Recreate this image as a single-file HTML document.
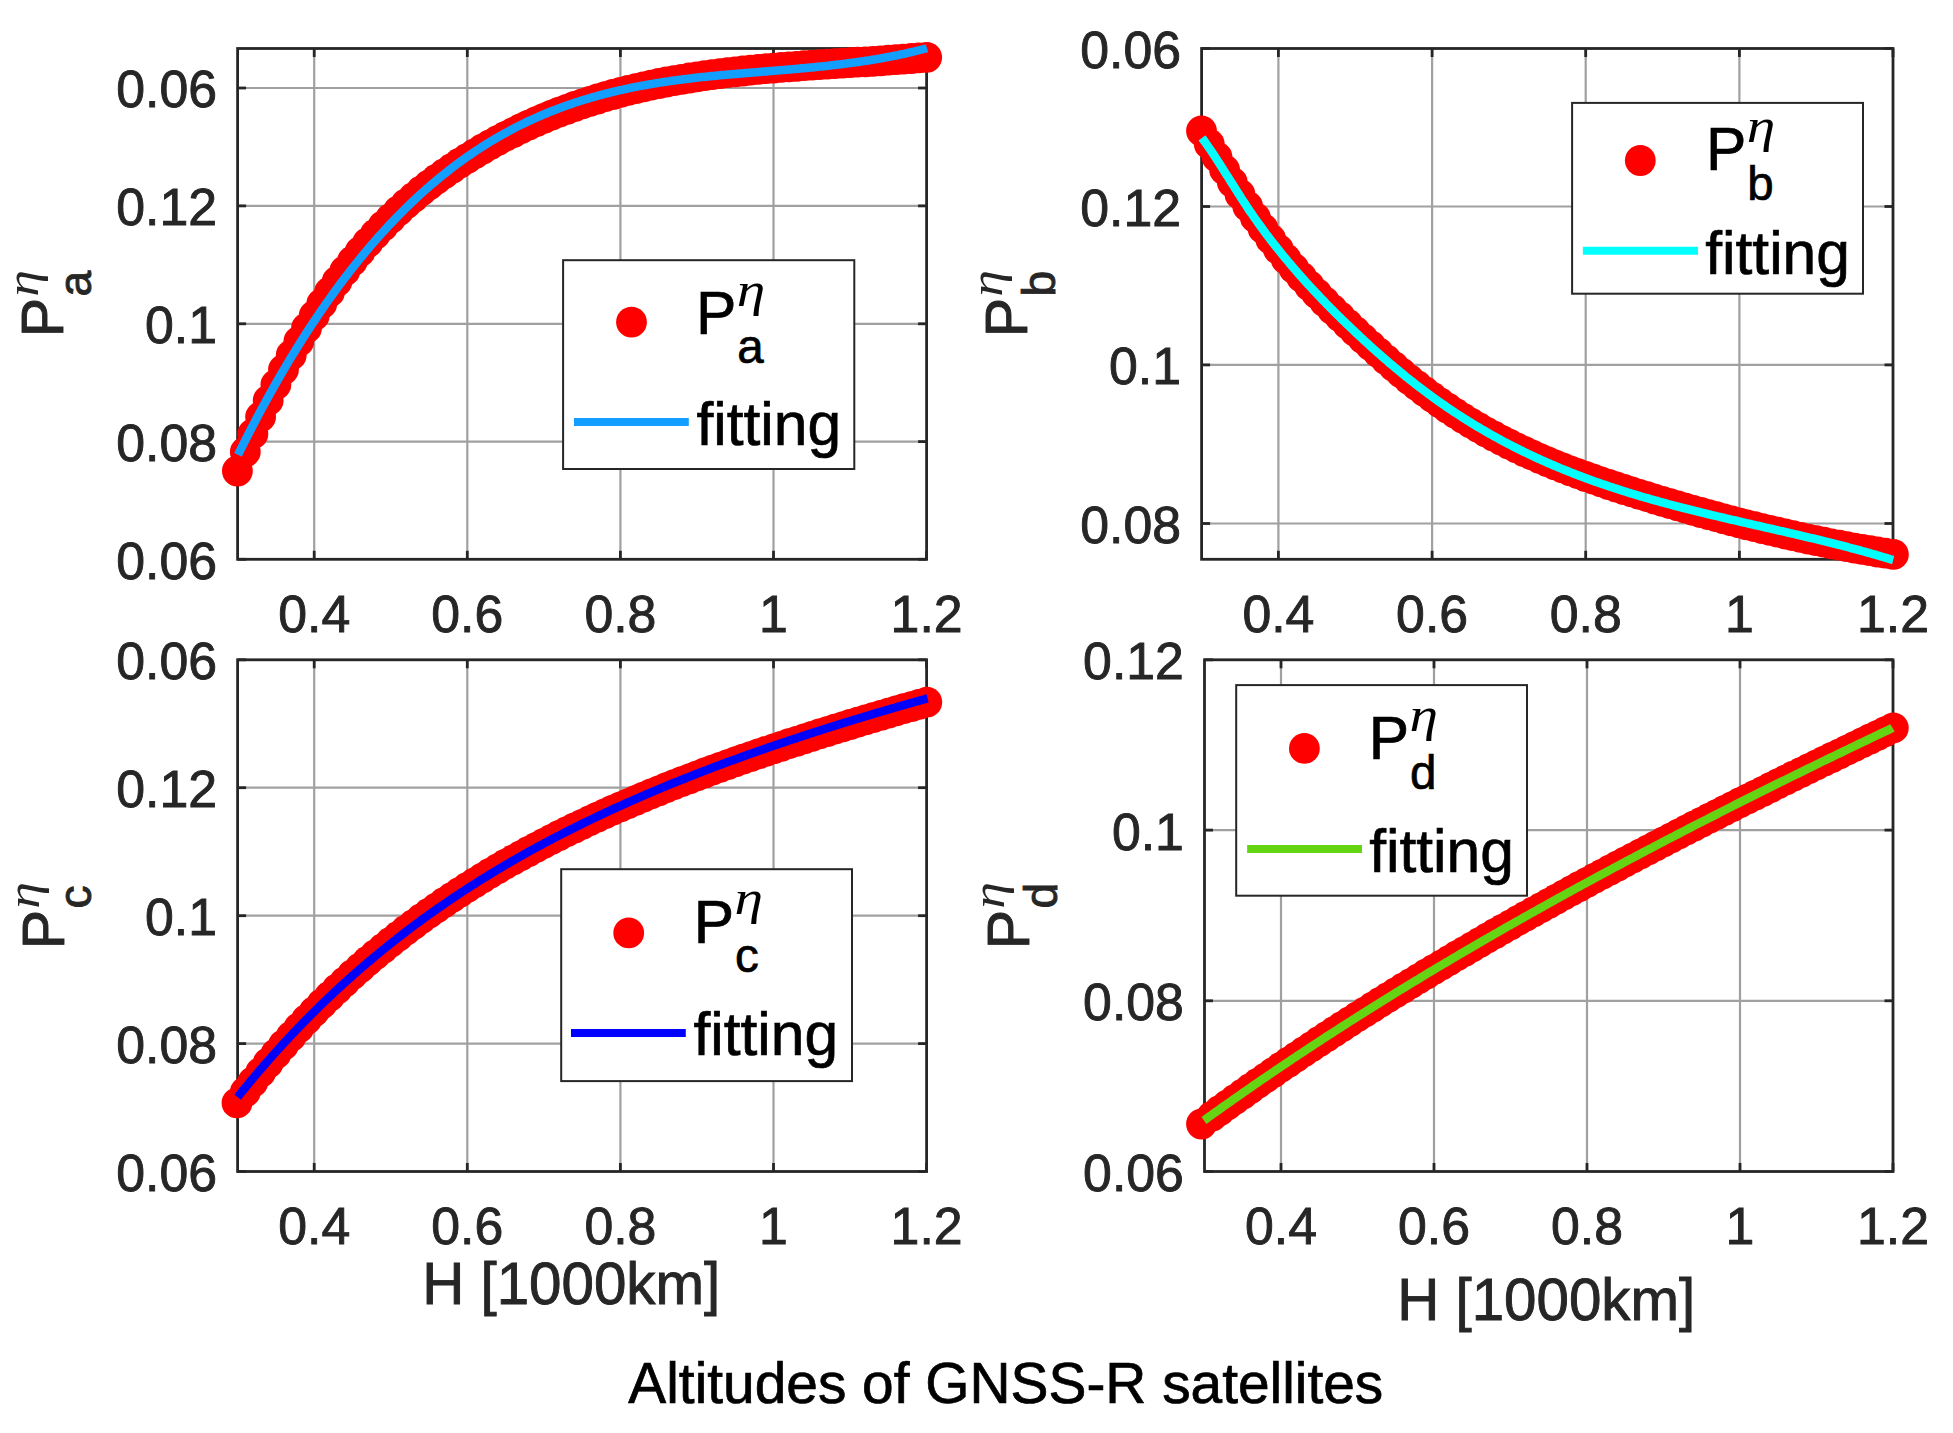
<!DOCTYPE html>
<html><head><meta charset="utf-8"><title>Altitudes of GNSS-R satellites</title><style>html,body{margin:0;padding:0;background:#fff;overflow:hidden}svg{display:block}</style></head><body>
<svg width="1953" height="1433" viewBox="0 0 1953 1433">
<rect x="0" y="0" width="1953" height="1433" fill="#ffffff"/>
<g stroke="#a0a0a0" stroke-width="2.2"><line x1="314.2" y1="48.5" x2="314.2" y2="559.3"/><line x1="467.3" y1="48.5" x2="467.3" y2="559.3"/><line x1="620.4" y1="48.5" x2="620.4" y2="559.3"/><line x1="773.5" y1="48.5" x2="773.5" y2="559.3"/><line x1="237.6" y1="88.0" x2="926.6" y2="88.0"/><line x1="237.6" y1="205.9" x2="926.6" y2="205.9"/><line x1="237.6" y1="323.8" x2="926.6" y2="323.8"/><line x1="237.6" y1="441.6" x2="926.6" y2="441.6"/></g>
<g stroke="#262626" stroke-width="2.8"><line x1="314.2" y1="559.3" x2="314.2" y2="550.8"/><line x1="314.2" y1="48.5" x2="314.2" y2="57.0"/><line x1="467.3" y1="559.3" x2="467.3" y2="550.8"/><line x1="467.3" y1="48.5" x2="467.3" y2="57.0"/><line x1="620.4" y1="559.3" x2="620.4" y2="550.8"/><line x1="620.4" y1="48.5" x2="620.4" y2="57.0"/><line x1="773.5" y1="559.3" x2="773.5" y2="550.8"/><line x1="773.5" y1="48.5" x2="773.5" y2="57.0"/><line x1="926.6" y1="559.3" x2="926.6" y2="550.8"/><line x1="926.6" y1="48.5" x2="926.6" y2="57.0"/><line x1="237.6" y1="88.0" x2="246.1" y2="88.0"/><line x1="926.6" y1="88.0" x2="918.1" y2="88.0"/><line x1="237.6" y1="205.9" x2="246.1" y2="205.9"/><line x1="926.6" y1="205.9" x2="918.1" y2="205.9"/><line x1="237.6" y1="323.8" x2="246.1" y2="323.8"/><line x1="926.6" y1="323.8" x2="918.1" y2="323.8"/><line x1="237.6" y1="441.6" x2="246.1" y2="441.6"/><line x1="926.6" y1="441.6" x2="918.1" y2="441.6"/><line x1="237.6" y1="559.3" x2="246.1" y2="559.3"/><line x1="926.6" y1="559.3" x2="918.1" y2="559.3"/></g>
<rect x="237.6" y="48.5" width="689.0" height="510.8" fill="none" stroke="#262626" stroke-width="2.8" stroke-linejoin="miter" stroke-linecap="square"/>
<g font-family='"Liberation Sans", Arial, Helvetica, sans-serif' font-size="51.8" fill="#262626" stroke="#262626" stroke-width="0.9"><text x="217.0" y="107.4" text-anchor="end">0.06</text><text x="217.0" y="225.3" text-anchor="end">0.12</text><text x="217.0" y="343.2" text-anchor="end">0.1</text><text x="217.0" y="461.0" text-anchor="end">0.08</text><text x="217.0" y="578.7" text-anchor="end">0.06</text><text x="314.2" y="631.6" text-anchor="middle">0.4</text><text x="467.3" y="631.6" text-anchor="middle">0.6</text><text x="620.4" y="631.6" text-anchor="middle">0.8</text><text x="773.5" y="631.6" text-anchor="middle">1</text><text x="926.6" y="631.6" text-anchor="middle">1.2</text></g>
<g fill="#FF0000"><circle cx="237.4" cy="471.0" r="15.4"/><circle cx="245.3" cy="451.8" r="15.4"/><circle cx="252.9" cy="433.9" r="15.4"/><circle cx="260.6" cy="416.8" r="15.4"/><circle cx="268.2" cy="400.4" r="15.4"/><circle cx="275.9" cy="384.6" r="15.4"/><circle cx="283.5" cy="369.6" r="15.4"/><circle cx="291.2" cy="355.2" r="15.4"/><circle cx="298.8" cy="341.4" r="15.4"/><circle cx="306.5" cy="328.2" r="15.4"/><circle cx="314.2" cy="315.7" r="15.4"/><circle cx="321.8" cy="303.7" r="15.4"/><circle cx="329.5" cy="292.2" r="15.4"/><circle cx="337.1" cy="281.3" r="15.4"/><circle cx="344.8" cy="270.9" r="15.4"/><circle cx="352.4" cy="261.1" r="15.4"/><circle cx="360.1" cy="251.6" r="15.4"/><circle cx="367.7" cy="242.7" r="15.4"/><circle cx="375.4" cy="234.1" r="15.4"/><circle cx="383.1" cy="226.0" r="15.4"/><circle cx="390.7" cy="218.3" r="15.4"/><circle cx="398.4" cy="210.9" r="15.4"/><circle cx="406.0" cy="203.9" r="15.4"/><circle cx="413.7" cy="197.3" r="15.4"/><circle cx="421.3" cy="190.9" r="15.4"/><circle cx="429.0" cy="184.9" r="15.4"/><circle cx="436.6" cy="179.1" r="15.4"/><circle cx="444.3" cy="173.6" r="15.4"/><circle cx="452.0" cy="168.3" r="15.4"/><circle cx="459.6" cy="163.2" r="15.4"/><circle cx="467.3" cy="158.3" r="15.4"/><circle cx="474.9" cy="153.6" r="15.4"/><circle cx="482.6" cy="149.0" r="15.4"/><circle cx="490.2" cy="144.7" r="15.4"/><circle cx="497.9" cy="140.4" r="15.4"/><circle cx="505.5" cy="136.4" r="15.4"/><circle cx="513.2" cy="132.5" r="15.4"/><circle cx="520.9" cy="128.7" r="15.4"/><circle cx="528.5" cy="125.2" r="15.4"/><circle cx="536.2" cy="121.7" r="15.4"/><circle cx="543.8" cy="118.4" r="15.4"/><circle cx="551.5" cy="115.2" r="15.4"/><circle cx="559.1" cy="112.2" r="15.4"/><circle cx="566.8" cy="109.3" r="15.4"/><circle cx="574.4" cy="106.5" r="15.4"/><circle cx="582.1" cy="103.9" r="15.4"/><circle cx="589.8" cy="101.4" r="15.4"/><circle cx="597.4" cy="99.0" r="15.4"/><circle cx="605.1" cy="96.7" r="15.4"/><circle cx="612.7" cy="94.5" r="15.4"/><circle cx="620.4" cy="92.4" r="15.4"/><circle cx="628.0" cy="90.4" r="15.4"/><circle cx="635.7" cy="88.6" r="15.4"/><circle cx="643.3" cy="86.8" r="15.4"/><circle cx="651.0" cy="85.1" r="15.4"/><circle cx="658.7" cy="83.5" r="15.4"/><circle cx="666.3" cy="82.0" r="15.4"/><circle cx="674.0" cy="80.6" r="15.4"/><circle cx="681.6" cy="79.3" r="15.4"/><circle cx="689.3" cy="78.0" r="15.4"/><circle cx="696.9" cy="76.8" r="15.4"/><circle cx="704.6" cy="75.7" r="15.4"/><circle cx="712.2" cy="74.6" r="15.4"/><circle cx="719.9" cy="73.6" r="15.4"/><circle cx="727.6" cy="72.7" r="15.4"/><circle cx="735.2" cy="71.8" r="15.4"/><circle cx="742.9" cy="71.0" r="15.4"/><circle cx="750.5" cy="70.2" r="15.4"/><circle cx="758.2" cy="69.4" r="15.4"/><circle cx="765.8" cy="68.7" r="15.4"/><circle cx="773.5" cy="68.1" r="15.4"/><circle cx="781.1" cy="67.4" r="15.4"/><circle cx="788.8" cy="66.9" r="15.4"/><circle cx="796.5" cy="66.3" r="15.4"/><circle cx="804.1" cy="65.7" r="15.4"/><circle cx="811.8" cy="65.2" r="15.4"/><circle cx="819.4" cy="64.7" r="15.4"/><circle cx="827.1" cy="64.2" r="15.4"/><circle cx="834.7" cy="63.7" r="15.4"/><circle cx="842.4" cy="63.2" r="15.4"/><circle cx="850.0" cy="62.7" r="15.4"/><circle cx="857.7" cy="62.2" r="15.4"/><circle cx="865.4" cy="61.8" r="15.4"/><circle cx="873.0" cy="61.3" r="15.4"/><circle cx="880.7" cy="60.8" r="15.4"/><circle cx="888.3" cy="60.2" r="15.4"/><circle cx="896.0" cy="59.7" r="15.4"/><circle cx="903.6" cy="59.1" r="15.4"/><circle cx="911.3" cy="58.5" r="15.4"/><circle cx="918.9" cy="57.9" r="15.4"/><circle cx="926.7" cy="57.3" r="15.4"/></g>
<path d="M238.0,454.8 L240.0,450.8 L242.0,446.8 L244.0,442.8 L246.0,438.9 L248.0,435.0 L250.0,431.1 L252.0,427.2 L254.0,423.4 L256.0,419.6 L258.0,415.8 L260.0,412.1 L262.0,408.3 L264.0,404.7 L266.0,401.0 L268.0,397.4 L270.0,393.8 L272.0,390.2 L274.0,386.6 L276.0,383.1 L278.0,379.6 L280.0,376.2 L282.0,372.7 L284.0,369.3 L286.0,365.9 L288.0,362.6 L290.0,359.2 L292.0,355.9 L294.0,352.7 L296.0,349.4 L298.0,346.2 L300.0,343.0 L302.0,339.8 L304.0,336.7 L306.0,333.5 L308.0,330.4 L310.0,327.4 L312.0,324.3 L314.0,321.3 L316.0,318.3 L318.0,315.3 L320.0,312.4 L322.0,309.5 L324.0,306.6 L326.0,303.7 L328.0,300.9 L330.0,298.1 L332.0,295.3 L334.0,292.5 L336.0,289.7 L338.0,287.0 L340.0,284.3 L342.0,281.7 L344.0,279.0 L346.0,276.4 L348.0,273.8 L350.0,271.2 L352.0,268.6 L354.0,266.1 L356.0,263.6 L358.0,261.1 L360.0,258.6 L362.0,256.2 L364.0,253.8 L366.0,251.4 L368.0,249.0 L370.0,246.6 L372.0,244.3 L374.0,242.0 L376.0,239.7 L378.0,237.4 L380.0,235.2 L382.0,233.0 L384.0,230.8 L386.0,228.6 L388.0,226.4 L390.0,224.3 L392.0,222.2 L394.0,220.1 L396.0,218.0 L398.0,216.0 L400.0,213.9 L402.0,211.9 L404.0,209.9 L406.0,208.0 L408.0,206.0 L410.0,204.1 L412.0,202.2 L414.0,200.3 L416.0,198.4 L418.0,196.5 L420.0,194.7 L422.0,192.9 L424.0,191.1 L426.0,189.3 L428.0,187.6 L430.0,185.8 L432.0,184.1 L434.0,182.4 L436.0,180.7 L438.0,179.1 L440.0,177.4 L442.0,175.8 L444.0,174.2 L446.0,172.6 L448.0,171.0 L450.0,169.5 L452.0,167.9 L454.0,166.4 L456.0,164.9 L458.0,163.4 L460.0,161.9 L462.0,160.5 L464.0,159.1 L466.0,157.6 L468.0,156.2 L470.0,154.9 L472.0,153.5 L474.0,152.1 L476.0,150.8 L478.0,149.5 L480.0,148.2 L482.0,146.9 L484.0,145.6 L486.0,144.4 L488.0,143.1 L490.0,141.9 L492.0,140.7 L494.0,139.5 L496.0,138.3 L498.0,137.2 L500.0,136.0 L502.0,134.9 L504.0,133.8 L506.0,132.7 L508.0,131.6 L510.0,130.5 L512.0,129.4 L514.0,128.4 L516.0,127.3 L518.0,126.3 L520.0,125.3 L522.0,124.3 L524.0,123.4 L526.0,122.4 L528.0,121.4 L530.0,120.5 L532.0,119.6 L534.0,118.7 L536.0,117.8 L538.0,116.9 L540.0,116.0 L542.0,115.1 L544.0,114.3 L546.0,113.5 L548.0,112.6 L550.0,111.8 L552.0,111.0 L554.0,110.2 L556.0,109.5 L558.0,108.7 L560.0,107.9 L562.0,107.2 L564.0,106.5 L566.0,105.8 L568.0,105.1 L570.0,104.4 L572.0,103.7 L574.0,103.0 L576.0,102.3 L578.0,101.7 L580.0,101.0 L582.0,100.4 L584.0,99.8 L586.0,99.2 L588.0,98.6 L590.0,98.0 L592.0,97.4 L594.0,96.8 L596.0,96.3 L598.0,95.7 L600.0,95.2 L602.0,94.6 L604.0,94.1 L606.0,93.6 L608.0,93.1 L610.0,92.6 L612.0,92.1 L614.0,91.6 L616.0,91.1 L618.0,90.7 L620.0,90.2 L622.0,89.8 L624.0,89.3 L626.0,88.9 L628.0,88.5 L630.0,88.0 L632.0,87.6 L634.0,87.2 L636.0,86.8 L638.0,86.4 L640.0,86.1 L642.0,85.7 L644.0,85.3 L646.0,85.0 L648.0,84.6 L650.0,84.3 L652.0,83.9 L654.0,83.6 L656.0,83.2 L658.0,82.9 L660.0,82.6 L662.0,82.3 L664.0,82.0 L666.0,81.7 L668.0,81.4 L670.0,81.1 L672.0,80.8 L674.0,80.5 L676.0,80.3 L678.0,80.0 L680.0,79.7 L682.0,79.5 L684.0,79.2 L686.0,79.0 L688.0,78.7 L690.0,78.5 L692.0,78.3 L694.0,78.0 L696.0,77.8 L698.0,77.6 L700.0,77.3 L702.0,77.1 L704.0,76.9 L706.0,76.7 L708.0,76.5 L710.0,76.3 L712.0,76.1 L714.0,75.9 L716.0,75.7 L718.0,75.5 L720.0,75.3 L722.0,75.1 L724.0,74.9 L726.0,74.8 L728.0,74.6 L730.0,74.4 L732.0,74.2 L734.0,74.0 L736.0,73.9 L738.0,73.7 L740.0,73.5 L742.0,73.4 L744.0,73.2 L746.0,73.0 L748.0,72.9 L750.0,72.7 L752.0,72.5 L754.0,72.4 L756.0,72.2 L758.0,72.0 L760.0,71.9 L762.0,71.7 L764.0,71.5 L766.0,71.4 L768.0,71.2 L770.0,71.1 L772.0,70.9 L774.0,70.7 L776.0,70.6 L778.0,70.4 L780.0,70.2 L782.0,70.1 L784.0,69.9 L786.0,69.7 L788.0,69.6 L790.0,69.4 L792.0,69.2 L794.0,69.1 L796.0,68.9 L798.0,68.7 L800.0,68.5 L802.0,68.3 L804.0,68.2 L806.0,68.0 L808.0,67.8 L810.0,67.6 L812.0,67.4 L814.0,67.2 L816.0,67.0 L818.0,66.8 L820.0,66.6 L822.0,66.4 L824.0,66.2 L826.0,66.0 L828.0,65.7 L830.0,65.5 L832.0,65.3 L834.0,65.1 L836.0,64.8 L838.0,64.6 L840.0,64.4 L842.0,64.1 L844.0,63.9 L846.0,63.6 L848.0,63.3 L850.0,63.1 L852.0,62.8 L854.0,62.5 L856.0,62.3 L858.0,62.0 L860.0,61.7 L862.0,61.4 L864.0,61.1 L866.0,60.8 L868.0,60.5 L870.0,60.2 L872.0,59.8 L874.0,59.5 L876.0,59.2 L878.0,58.8 L880.0,58.5 L882.0,58.1 L884.0,57.8 L886.0,57.4 L888.0,57.0 L890.0,56.6 L892.0,56.3 L894.0,55.9 L896.0,55.5 L898.0,55.1 L900.0,54.6 L902.0,54.2 L904.0,53.8 L906.0,53.3 L908.0,52.9 L910.0,52.4 L912.0,52.0 L914.0,51.5 L916.0,51.0 L918.0,50.5 L920.0,50.0 L922.0,49.5 L924.0,49.0 L926.0,48.5 L927.0,48.2" fill="none" stroke="#129FFF" stroke-width="8.5" stroke-linecap="butt" stroke-linejoin="round"/>
<rect x="563.1" y="260.2" width="291.2" height="208.8" fill="#ffffff" stroke="#262626" stroke-width="2"/>
<circle cx="631.5" cy="322.2" r="15.4" fill="#FF0000"/>
<line x1="574.0" y1="422.1" x2="688.8" y2="422.1" stroke="#129FFF" stroke-width="8"/>
<g fill="#000"><text x="696.1" y="333.8" font-family='"Liberation Sans", Arial, Helvetica, sans-serif' font-size="60.5" stroke="#000" stroke-width="0.7">P</text><text transform="translate(736.7,305.5) scale(1.176,1)" x="0" y="0" font-family="Liberation Serif, serif" font-style="italic" font-size="48.8">η</text><text x="737.2" y="363.0" font-family='"Liberation Sans", Arial, Helvetica, sans-serif' font-size="47.5" stroke="#000" stroke-width="0.7">a</text><text x="696.5" y="444.9" font-family='"Liberation Sans", Arial, Helvetica, sans-serif' font-size="60.5" stroke="#000" stroke-width="0.7">fitting</text></g>
<g transform="translate(63.9,332.8) rotate(-90)" fill="#262626" stroke="#262626" stroke-width="0.9"><text x="-4.4" y="-0.45" font-family='"Liberation Sans", Arial, Helvetica, sans-serif' font-size="59">P</text><text transform="translate(36.0,-25.6) scale(1.18,1)" x="0" y="0" font-family="Liberation Serif, serif" font-style="italic" font-size="45.6" stroke="none">η</text><text x="36.2" y="27.2" font-family='"Liberation Sans", Arial, Helvetica, sans-serif' font-size="46.3">a</text></g>
<g stroke="#a0a0a0" stroke-width="2.2"><line x1="1278.4" y1="48.5" x2="1278.4" y2="559.3"/><line x1="1432.1" y1="48.5" x2="1432.1" y2="559.3"/><line x1="1585.7" y1="48.5" x2="1585.7" y2="559.3"/><line x1="1739.4" y1="48.5" x2="1739.4" y2="559.3"/><line x1="1201.6" y1="206.5" x2="1893.0" y2="206.5"/><line x1="1201.6" y1="364.9" x2="1893.0" y2="364.9"/><line x1="1201.6" y1="523.5" x2="1893.0" y2="523.5"/></g>
<g stroke="#262626" stroke-width="2.8"><line x1="1278.4" y1="559.3" x2="1278.4" y2="550.8"/><line x1="1278.4" y1="48.5" x2="1278.4" y2="57.0"/><line x1="1432.1" y1="559.3" x2="1432.1" y2="550.8"/><line x1="1432.1" y1="48.5" x2="1432.1" y2="57.0"/><line x1="1585.7" y1="559.3" x2="1585.7" y2="550.8"/><line x1="1585.7" y1="48.5" x2="1585.7" y2="57.0"/><line x1="1739.4" y1="559.3" x2="1739.4" y2="550.8"/><line x1="1739.4" y1="48.5" x2="1739.4" y2="57.0"/><line x1="1893.0" y1="559.3" x2="1893.0" y2="550.8"/><line x1="1893.0" y1="48.5" x2="1893.0" y2="57.0"/><line x1="1201.6" y1="48.5" x2="1210.1" y2="48.5"/><line x1="1893.0" y1="48.5" x2="1884.5" y2="48.5"/><line x1="1201.6" y1="206.5" x2="1210.1" y2="206.5"/><line x1="1893.0" y1="206.5" x2="1884.5" y2="206.5"/><line x1="1201.6" y1="364.9" x2="1210.1" y2="364.9"/><line x1="1893.0" y1="364.9" x2="1884.5" y2="364.9"/><line x1="1201.6" y1="523.5" x2="1210.1" y2="523.5"/><line x1="1893.0" y1="523.5" x2="1884.5" y2="523.5"/></g>
<rect x="1201.6" y="48.5" width="691.4" height="510.8" fill="none" stroke="#262626" stroke-width="2.8" stroke-linejoin="miter" stroke-linecap="square"/>
<g font-family='"Liberation Sans", Arial, Helvetica, sans-serif' font-size="51.8" fill="#262626" stroke="#262626" stroke-width="0.9"><text x="1181.0" y="67.9" text-anchor="end">0.06</text><text x="1181.0" y="225.9" text-anchor="end">0.12</text><text x="1181.0" y="384.3" text-anchor="end">0.1</text><text x="1181.0" y="542.9" text-anchor="end">0.08</text><text x="1278.4" y="631.6" text-anchor="middle">0.4</text><text x="1432.1" y="631.6" text-anchor="middle">0.6</text><text x="1585.7" y="631.6" text-anchor="middle">0.8</text><text x="1739.4" y="631.6" text-anchor="middle">1</text><text x="1893.0" y="631.6" text-anchor="middle">1.2</text></g>
<g fill="#FF0000"><circle cx="1201.5" cy="131.0" r="15.4"/><circle cx="1209.3" cy="144.2" r="15.4"/><circle cx="1217.0" cy="157.1" r="15.4"/><circle cx="1224.6" cy="169.8" r="15.4"/><circle cx="1232.3" cy="182.3" r="15.4"/><circle cx="1240.0" cy="194.4" r="15.4"/><circle cx="1247.7" cy="206.3" r="15.4"/><circle cx="1255.4" cy="217.7" r="15.4"/><circle cx="1263.1" cy="228.7" r="15.4"/><circle cx="1270.7" cy="239.2" r="15.4"/><circle cx="1278.4" cy="249.4" r="15.4"/><circle cx="1286.1" cy="259.1" r="15.4"/><circle cx="1293.8" cy="268.3" r="15.4"/><circle cx="1301.5" cy="277.1" r="15.4"/><circle cx="1309.2" cy="285.6" r="15.4"/><circle cx="1316.8" cy="293.7" r="15.4"/><circle cx="1324.5" cy="301.6" r="15.4"/><circle cx="1332.2" cy="309.3" r="15.4"/><circle cx="1339.9" cy="316.7" r="15.4"/><circle cx="1347.6" cy="324.1" r="15.4"/><circle cx="1355.2" cy="331.4" r="15.4"/><circle cx="1362.9" cy="338.6" r="15.4"/><circle cx="1370.6" cy="345.7" r="15.4"/><circle cx="1378.3" cy="352.7" r="15.4"/><circle cx="1386.0" cy="359.6" r="15.4"/><circle cx="1393.7" cy="366.3" r="15.4"/><circle cx="1401.3" cy="372.9" r="15.4"/><circle cx="1409.0" cy="379.3" r="15.4"/><circle cx="1416.7" cy="385.4" r="15.4"/><circle cx="1424.4" cy="391.4" r="15.4"/><circle cx="1432.1" cy="397.1" r="15.4"/><circle cx="1439.7" cy="402.7" r="15.4"/><circle cx="1447.4" cy="408.0" r="15.4"/><circle cx="1455.1" cy="413.1" r="15.4"/><circle cx="1462.8" cy="418.1" r="15.4"/><circle cx="1470.5" cy="422.8" r="15.4"/><circle cx="1478.2" cy="427.4" r="15.4"/><circle cx="1485.8" cy="431.8" r="15.4"/><circle cx="1493.5" cy="436.0" r="15.4"/><circle cx="1501.2" cy="440.1" r="15.4"/><circle cx="1508.9" cy="444.0" r="15.4"/><circle cx="1516.6" cy="447.8" r="15.4"/><circle cx="1524.3" cy="451.5" r="15.4"/><circle cx="1531.9" cy="455.0" r="15.4"/><circle cx="1539.6" cy="458.4" r="15.4"/><circle cx="1547.3" cy="461.7" r="15.4"/><circle cx="1555.0" cy="464.8" r="15.4"/><circle cx="1562.7" cy="467.9" r="15.4"/><circle cx="1570.3" cy="470.9" r="15.4"/><circle cx="1578.0" cy="473.7" r="15.4"/><circle cx="1585.7" cy="476.5" r="15.4"/><circle cx="1593.4" cy="479.2" r="15.4"/><circle cx="1601.1" cy="481.9" r="15.4"/><circle cx="1608.8" cy="484.5" r="15.4"/><circle cx="1616.4" cy="487.0" r="15.4"/><circle cx="1624.1" cy="489.5" r="15.4"/><circle cx="1631.8" cy="491.9" r="15.4"/><circle cx="1639.5" cy="494.3" r="15.4"/><circle cx="1647.2" cy="496.7" r="15.4"/><circle cx="1654.9" cy="499.1" r="15.4"/><circle cx="1662.5" cy="501.4" r="15.4"/><circle cx="1670.2" cy="503.7" r="15.4"/><circle cx="1677.9" cy="505.9" r="15.4"/><circle cx="1685.6" cy="508.1" r="15.4"/><circle cx="1693.3" cy="510.3" r="15.4"/><circle cx="1700.9" cy="512.5" r="15.4"/><circle cx="1708.6" cy="514.6" r="15.4"/><circle cx="1716.3" cy="516.7" r="15.4"/><circle cx="1724.0" cy="518.8" r="15.4"/><circle cx="1731.7" cy="520.8" r="15.4"/><circle cx="1739.4" cy="522.8" r="15.4"/><circle cx="1747.0" cy="524.8" r="15.4"/><circle cx="1754.7" cy="526.7" r="15.4"/><circle cx="1762.4" cy="528.6" r="15.4"/><circle cx="1770.1" cy="530.4" r="15.4"/><circle cx="1777.8" cy="532.2" r="15.4"/><circle cx="1785.4" cy="534.0" r="15.4"/><circle cx="1793.1" cy="535.7" r="15.4"/><circle cx="1800.8" cy="537.4" r="15.4"/><circle cx="1808.5" cy="539.1" r="15.4"/><circle cx="1816.2" cy="540.7" r="15.4"/><circle cx="1823.9" cy="542.2" r="15.4"/><circle cx="1831.5" cy="543.8" r="15.4"/><circle cx="1839.2" cy="545.2" r="15.4"/><circle cx="1846.9" cy="546.7" r="15.4"/><circle cx="1854.6" cy="548.1" r="15.4"/><circle cx="1862.3" cy="549.4" r="15.4"/><circle cx="1870.0" cy="550.7" r="15.4"/><circle cx="1877.6" cy="552.0" r="15.4"/><circle cx="1885.3" cy="553.2" r="15.4"/><circle cx="1893.4" cy="554.4" r="15.4"/></g>
<path d="M1202.0,137.9 L1204.0,140.6 L1206.0,143.4 L1208.0,146.3 L1210.0,149.2 L1212.0,152.2 L1214.0,155.2 L1216.0,158.3 L1218.0,161.3 L1220.0,164.5 L1222.0,167.6 L1224.0,170.7 L1226.0,173.9 L1228.0,177.1 L1230.0,180.3 L1232.0,183.4 L1234.0,186.6 L1236.0,189.8 L1238.0,192.9 L1240.0,196.1 L1242.0,199.2 L1244.0,202.2 L1246.0,205.3 L1248.0,208.3 L1250.0,211.3 L1252.0,214.2 L1254.0,217.1 L1256.0,219.9 L1258.0,222.7 L1260.0,225.5 L1262.0,228.3 L1264.0,231.0 L1266.0,233.7 L1268.0,236.3 L1270.0,239.0 L1272.0,241.6 L1274.0,244.1 L1276.0,246.7 L1278.0,249.2 L1280.0,251.7 L1282.0,254.1 L1284.0,256.6 L1286.0,259.0 L1288.0,261.4 L1290.0,263.8 L1292.0,266.1 L1294.0,268.5 L1296.0,270.8 L1298.0,273.1 L1300.0,275.4 L1302.0,277.6 L1304.0,279.9 L1306.0,282.1 L1308.0,284.3 L1310.0,286.5 L1312.0,288.6 L1314.0,290.8 L1316.0,292.9 L1318.0,295.0 L1320.0,297.1 L1322.0,299.2 L1324.0,301.3 L1326.0,303.4 L1328.0,305.4 L1330.0,307.5 L1332.0,309.5 L1334.0,311.5 L1336.0,313.5 L1338.0,315.5 L1340.0,317.4 L1342.0,319.4 L1344.0,321.3 L1346.0,323.3 L1348.0,325.2 L1350.0,327.1 L1352.0,329.0 L1354.0,330.9 L1356.0,332.8 L1358.0,334.7 L1360.0,336.6 L1362.0,338.4 L1364.0,340.3 L1366.0,342.1 L1368.0,343.9 L1370.0,345.8 L1372.0,347.6 L1374.0,349.4 L1376.0,351.2 L1378.0,352.9 L1380.0,354.7 L1382.0,356.5 L1384.0,358.2 L1386.0,359.9 L1388.0,361.7 L1390.0,363.4 L1392.0,365.1 L1394.0,366.8 L1396.0,368.4 L1398.0,370.1 L1400.0,371.8 L1402.0,373.4 L1404.0,375.0 L1406.0,376.7 L1408.0,378.3 L1410.0,379.9 L1412.0,381.4 L1414.0,383.0 L1416.0,384.6 L1418.0,386.1 L1420.0,387.7 L1422.0,389.2 L1424.0,390.7 L1426.0,392.2 L1428.0,393.7 L1430.0,395.1 L1432.0,396.6 L1434.0,398.1 L1436.0,399.5 L1438.0,400.9 L1440.0,402.3 L1442.0,403.7 L1444.0,405.1 L1446.0,406.5 L1448.0,407.9 L1450.0,409.2 L1452.0,410.5 L1454.0,411.9 L1456.0,413.2 L1458.0,414.5 L1460.0,415.8 L1462.0,417.1 L1464.0,418.4 L1466.0,419.6 L1468.0,420.9 L1470.0,422.1 L1472.0,423.4 L1474.0,424.6 L1476.0,425.8 L1478.0,427.0 L1480.0,428.2 L1482.0,429.4 L1484.0,430.5 L1486.0,431.7 L1488.0,432.8 L1490.0,434.0 L1492.0,435.1 L1494.0,436.2 L1496.0,437.3 L1498.0,438.4 L1500.0,439.5 L1502.0,440.6 L1504.0,441.7 L1506.0,442.7 L1508.0,443.8 L1510.0,444.8 L1512.0,445.9 L1514.0,446.9 L1516.0,447.9 L1518.0,448.9 L1520.0,449.9 L1522.0,450.9 L1524.0,451.9 L1526.0,452.8 L1528.0,453.8 L1530.0,454.7 L1532.0,455.7 L1534.0,456.6 L1536.0,457.6 L1538.0,458.5 L1540.0,459.4 L1542.0,460.3 L1544.0,461.2 L1546.0,462.1 L1548.0,463.0 L1550.0,463.8 L1552.0,464.7 L1554.0,465.5 L1556.0,466.4 L1558.0,467.2 L1560.0,468.1 L1562.0,468.9 L1564.0,469.7 L1566.0,470.5 L1568.0,471.3 L1570.0,472.1 L1572.0,472.9 L1574.0,473.7 L1576.0,474.5 L1578.0,475.2 L1580.0,476.0 L1582.0,476.8 L1584.0,477.5 L1586.0,478.2 L1588.0,479.0 L1590.0,479.7 L1592.0,480.4 L1594.0,481.2 L1596.0,481.9 L1598.0,482.6 L1600.0,483.3 L1602.0,484.0 L1604.0,484.6 L1606.0,485.3 L1608.0,486.0 L1610.0,486.7 L1612.0,487.3 L1614.0,488.0 L1616.0,488.6 L1618.0,489.3 L1620.0,489.9 L1622.0,490.6 L1624.0,491.2 L1626.0,491.8 L1628.0,492.5 L1630.0,493.1 L1632.0,493.7 L1634.0,494.3 L1636.0,494.9 L1638.0,495.5 L1640.0,496.1 L1642.0,496.7 L1644.0,497.3 L1646.0,497.8 L1648.0,498.4 L1650.0,499.0 L1652.0,499.6 L1654.0,500.1 L1656.0,500.7 L1658.0,501.2 L1660.0,501.8 L1662.0,502.3 L1664.0,502.9 L1666.0,503.4 L1668.0,504.0 L1670.0,504.5 L1672.0,505.0 L1674.0,505.6 L1676.0,506.1 L1678.0,506.6 L1680.0,507.1 L1682.0,507.6 L1684.0,508.2 L1686.0,508.7 L1688.0,509.2 L1690.0,509.7 L1692.0,510.2 L1694.0,510.7 L1696.0,511.2 L1698.0,511.7 L1700.0,512.2 L1702.0,512.7 L1704.0,513.1 L1706.0,513.6 L1708.0,514.1 L1710.0,514.6 L1712.0,515.1 L1714.0,515.5 L1716.0,516.0 L1718.0,516.5 L1720.0,517.0 L1722.0,517.4 L1724.0,517.9 L1726.0,518.4 L1728.0,518.8 L1730.0,519.3 L1732.0,519.8 L1734.0,520.2 L1736.0,520.7 L1738.0,521.2 L1740.0,521.6 L1742.0,522.1 L1744.0,522.5 L1746.0,523.0 L1748.0,523.5 L1750.0,523.9 L1752.0,524.4 L1754.0,524.8 L1756.0,525.3 L1758.0,525.7 L1760.0,526.2 L1762.0,526.7 L1764.0,527.1 L1766.0,527.6 L1768.0,528.0 L1770.0,528.5 L1772.0,528.9 L1774.0,529.4 L1776.0,529.8 L1778.0,530.3 L1780.0,530.8 L1782.0,531.2 L1784.0,531.7 L1786.0,532.1 L1788.0,532.6 L1790.0,533.1 L1792.0,533.5 L1794.0,534.0 L1796.0,534.5 L1798.0,534.9 L1800.0,535.4 L1802.0,535.9 L1804.0,536.3 L1806.0,536.8 L1808.0,537.3 L1810.0,537.8 L1812.0,538.2 L1814.0,538.7 L1816.0,539.2 L1818.0,539.7 L1820.0,540.2 L1822.0,540.7 L1824.0,541.2 L1826.0,541.6 L1828.0,542.1 L1830.0,542.6 L1832.0,543.1 L1834.0,543.6 L1836.0,544.1 L1838.0,544.7 L1840.0,545.2 L1842.0,545.7 L1844.0,546.2 L1846.0,546.7 L1848.0,547.2 L1850.0,547.8 L1852.0,548.3 L1854.0,548.8 L1856.0,549.4 L1858.0,549.9 L1860.0,550.4 L1862.0,551.0 L1864.0,551.5 L1866.0,552.1 L1868.0,552.7 L1870.0,553.2 L1872.0,553.8 L1874.0,554.3 L1876.0,554.9 L1878.0,555.5 L1880.0,556.1 L1882.0,556.7 L1884.0,557.3 L1886.0,557.9 L1888.0,558.5 L1890.0,559.1 L1892.0,559.7 L1893.2,560.0" fill="none" stroke="#00FFFF" stroke-width="8.5" stroke-linecap="butt" stroke-linejoin="round"/>
<rect x="1572.1" y="102.9" width="290.9" height="190.8" fill="#ffffff" stroke="#262626" stroke-width="2"/>
<circle cx="1640.3" cy="160.5" r="15.4" fill="#FF0000"/>
<line x1="1582.9" y1="250.8" x2="1698.0" y2="250.8" stroke="#00FFFF" stroke-width="8"/>
<g fill="#000"><text x="1706.1" y="170.3" font-family='"Liberation Sans", Arial, Helvetica, sans-serif' font-size="60.5" stroke="#000" stroke-width="0.7">P</text><text transform="translate(1746.7,142.0) scale(1.176,1)" x="0" y="0" font-family="Liberation Serif, serif" font-style="italic" font-size="48.8">η</text><text x="1747.2" y="199.5" font-family='"Liberation Sans", Arial, Helvetica, sans-serif' font-size="47.5" stroke="#000" stroke-width="0.7">b</text><text x="1705.3" y="273.8" font-family='"Liberation Sans", Arial, Helvetica, sans-serif' font-size="60.5" stroke="#000" stroke-width="0.7">fitting</text></g>
<g transform="translate(1027.8,332.8) rotate(-90)" fill="#262626" stroke="#262626" stroke-width="0.9"><text x="-4.4" y="-0.45" font-family='"Liberation Sans", Arial, Helvetica, sans-serif' font-size="59">P</text><text transform="translate(36.0,-25.6) scale(1.18,1)" x="0" y="0" font-family="Liberation Serif, serif" font-style="italic" font-size="45.6" stroke="none">η</text><text x="36.2" y="27.2" font-family='"Liberation Sans", Arial, Helvetica, sans-serif' font-size="46.3">b</text></g>
<g stroke="#a0a0a0" stroke-width="2.2"><line x1="314.2" y1="659.8" x2="314.2" y2="1171.5"/><line x1="467.3" y1="659.8" x2="467.3" y2="1171.5"/><line x1="620.4" y1="659.8" x2="620.4" y2="1171.5"/><line x1="773.5" y1="659.8" x2="773.5" y2="1171.5"/><line x1="237.6" y1="787.7" x2="926.6" y2="787.7"/><line x1="237.6" y1="915.7" x2="926.6" y2="915.7"/><line x1="237.6" y1="1043.6" x2="926.6" y2="1043.6"/></g>
<g stroke="#262626" stroke-width="2.8"><line x1="314.2" y1="1171.5" x2="314.2" y2="1163.0"/><line x1="314.2" y1="659.8" x2="314.2" y2="668.3"/><line x1="467.3" y1="1171.5" x2="467.3" y2="1163.0"/><line x1="467.3" y1="659.8" x2="467.3" y2="668.3"/><line x1="620.4" y1="1171.5" x2="620.4" y2="1163.0"/><line x1="620.4" y1="659.8" x2="620.4" y2="668.3"/><line x1="773.5" y1="1171.5" x2="773.5" y2="1163.0"/><line x1="773.5" y1="659.8" x2="773.5" y2="668.3"/><line x1="926.6" y1="1171.5" x2="926.6" y2="1163.0"/><line x1="926.6" y1="659.8" x2="926.6" y2="668.3"/><line x1="237.6" y1="659.8" x2="246.1" y2="659.8"/><line x1="926.6" y1="659.8" x2="918.1" y2="659.8"/><line x1="237.6" y1="787.7" x2="246.1" y2="787.7"/><line x1="926.6" y1="787.7" x2="918.1" y2="787.7"/><line x1="237.6" y1="915.7" x2="246.1" y2="915.7"/><line x1="926.6" y1="915.7" x2="918.1" y2="915.7"/><line x1="237.6" y1="1043.6" x2="246.1" y2="1043.6"/><line x1="926.6" y1="1043.6" x2="918.1" y2="1043.6"/><line x1="237.6" y1="1171.5" x2="246.1" y2="1171.5"/><line x1="926.6" y1="1171.5" x2="918.1" y2="1171.5"/></g>
<rect x="237.6" y="659.8" width="689.0" height="511.7" fill="none" stroke="#262626" stroke-width="2.8" stroke-linejoin="miter" stroke-linecap="square"/>
<g font-family='"Liberation Sans", Arial, Helvetica, sans-serif' font-size="51.8" fill="#262626" stroke="#262626" stroke-width="0.9"><text x="217.0" y="679.2" text-anchor="end">0.06</text><text x="217.0" y="807.1" text-anchor="end">0.12</text><text x="217.0" y="935.1" text-anchor="end">0.1</text><text x="217.0" y="1063.0" text-anchor="end">0.08</text><text x="217.0" y="1190.9" text-anchor="end">0.06</text><text x="314.2" y="1243.8" text-anchor="middle">0.4</text><text x="467.3" y="1243.8" text-anchor="middle">0.6</text><text x="620.4" y="1243.8" text-anchor="middle">0.8</text><text x="773.5" y="1243.8" text-anchor="middle">1</text><text x="926.6" y="1243.8" text-anchor="middle">1.2</text></g>
<g fill="#FF0000"><circle cx="237.0" cy="1102.9" r="15.4"/><circle cx="245.3" cy="1091.9" r="15.4"/><circle cx="252.9" cy="1082.0" r="15.4"/><circle cx="260.6" cy="1072.4" r="15.4"/><circle cx="268.2" cy="1063.0" r="15.4"/><circle cx="275.9" cy="1053.9" r="15.4"/><circle cx="283.5" cy="1045.0" r="15.4"/><circle cx="291.2" cy="1036.3" r="15.4"/><circle cx="298.8" cy="1027.9" r="15.4"/><circle cx="306.5" cy="1019.7" r="15.4"/><circle cx="314.2" cy="1011.7" r="15.4"/><circle cx="321.8" cy="1003.9" r="15.4"/><circle cx="329.5" cy="996.4" r="15.4"/><circle cx="337.1" cy="989.0" r="15.4"/><circle cx="344.8" cy="981.8" r="15.4"/><circle cx="352.4" cy="974.7" r="15.4"/><circle cx="360.1" cy="967.9" r="15.4"/><circle cx="367.7" cy="961.2" r="15.4"/><circle cx="375.4" cy="954.7" r="15.4"/><circle cx="383.1" cy="948.3" r="15.4"/><circle cx="390.7" cy="942.1" r="15.4"/><circle cx="398.4" cy="936.1" r="15.4"/><circle cx="406.0" cy="930.2" r="15.4"/><circle cx="413.7" cy="924.4" r="15.4"/><circle cx="421.3" cy="918.7" r="15.4"/><circle cx="429.0" cy="913.2" r="15.4"/><circle cx="436.6" cy="907.8" r="15.4"/><circle cx="444.3" cy="902.5" r="15.4"/><circle cx="452.0" cy="897.4" r="15.4"/><circle cx="459.6" cy="892.3" r="15.4"/><circle cx="467.3" cy="887.4" r="15.4"/><circle cx="474.9" cy="882.6" r="15.4"/><circle cx="482.6" cy="877.9" r="15.4"/><circle cx="490.2" cy="873.2" r="15.4"/><circle cx="497.9" cy="868.7" r="15.4"/><circle cx="505.5" cy="864.2" r="15.4"/><circle cx="513.2" cy="859.9" r="15.4"/><circle cx="520.9" cy="855.6" r="15.4"/><circle cx="528.5" cy="851.5" r="15.4"/><circle cx="536.2" cy="847.4" r="15.4"/><circle cx="543.8" cy="843.3" r="15.4"/><circle cx="551.5" cy="839.4" r="15.4"/><circle cx="559.1" cy="835.5" r="15.4"/><circle cx="566.8" cy="831.7" r="15.4"/><circle cx="574.4" cy="828.0" r="15.4"/><circle cx="582.1" cy="824.3" r="15.4"/><circle cx="589.8" cy="820.7" r="15.4"/><circle cx="597.4" cy="817.2" r="15.4"/><circle cx="605.1" cy="813.7" r="15.4"/><circle cx="612.7" cy="810.2" r="15.4"/><circle cx="620.4" cy="806.9" r="15.4"/><circle cx="628.0" cy="803.6" r="15.4"/><circle cx="635.7" cy="800.3" r="15.4"/><circle cx="643.3" cy="797.1" r="15.4"/><circle cx="651.0" cy="793.9" r="15.4"/><circle cx="658.7" cy="790.8" r="15.4"/><circle cx="666.3" cy="787.7" r="15.4"/><circle cx="674.0" cy="784.7" r="15.4"/><circle cx="681.6" cy="781.7" r="15.4"/><circle cx="689.3" cy="778.8" r="15.4"/><circle cx="696.9" cy="775.9" r="15.4"/><circle cx="704.6" cy="773.0" r="15.4"/><circle cx="712.2" cy="770.2" r="15.4"/><circle cx="719.9" cy="767.4" r="15.4"/><circle cx="727.6" cy="764.6" r="15.4"/><circle cx="735.2" cy="761.9" r="15.4"/><circle cx="742.9" cy="759.2" r="15.4"/><circle cx="750.5" cy="756.6" r="15.4"/><circle cx="758.2" cy="754.0" r="15.4"/><circle cx="765.8" cy="751.4" r="15.4"/><circle cx="773.5" cy="748.8" r="15.4"/><circle cx="781.1" cy="746.3" r="15.4"/><circle cx="788.8" cy="743.7" r="15.4"/><circle cx="796.5" cy="741.3" r="15.4"/><circle cx="804.1" cy="738.8" r="15.4"/><circle cx="811.8" cy="736.4" r="15.4"/><circle cx="819.4" cy="733.9" r="15.4"/><circle cx="827.1" cy="731.6" r="15.4"/><circle cx="834.7" cy="729.2" r="15.4"/><circle cx="842.4" cy="726.8" r="15.4"/><circle cx="850.0" cy="724.5" r="15.4"/><circle cx="857.7" cy="722.2" r="15.4"/><circle cx="865.4" cy="719.9" r="15.4"/><circle cx="873.0" cy="717.6" r="15.4"/><circle cx="880.7" cy="715.4" r="15.4"/><circle cx="888.3" cy="713.2" r="15.4"/><circle cx="896.0" cy="710.9" r="15.4"/><circle cx="903.6" cy="708.7" r="15.4"/><circle cx="911.3" cy="706.6" r="15.4"/><circle cx="918.9" cy="704.4" r="15.4"/><circle cx="926.8" cy="702.2" r="15.4"/></g>
<path d="M237.6,1097.2 L239.6,1094.7 L241.6,1092.2 L243.6,1089.8 L245.6,1087.3 L247.6,1084.9 L249.6,1082.4 L251.6,1080.0 L253.6,1077.6 L255.6,1075.3 L257.6,1072.9 L259.6,1070.5 L261.6,1068.2 L263.6,1065.9 L265.6,1063.6 L267.6,1061.3 L269.6,1059.0 L271.6,1056.7 L273.6,1054.5 L275.6,1052.2 L277.6,1050.0 L279.6,1047.8 L281.6,1045.6 L283.6,1043.4 L285.6,1041.3 L287.6,1039.1 L289.6,1037.0 L291.6,1034.8 L293.6,1032.7 L295.6,1030.6 L297.6,1028.5 L299.6,1026.4 L301.6,1024.4 L303.6,1022.3 L305.6,1020.3 L307.6,1018.2 L309.6,1016.2 L311.6,1014.2 L313.6,1012.2 L315.6,1010.2 L317.6,1008.3 L319.6,1006.3 L321.6,1004.3 L323.6,1002.4 L325.6,1000.5 L327.6,998.6 L329.6,996.7 L331.6,994.8 L333.6,992.9 L335.6,991.0 L337.6,989.2 L339.6,987.3 L341.6,985.5 L343.6,983.7 L345.6,981.8 L347.6,980.0 L349.6,978.3 L351.6,976.5 L353.6,974.7 L355.6,972.9 L357.6,971.2 L359.6,969.4 L361.6,967.7 L363.6,966.0 L365.6,964.3 L367.6,962.6 L369.6,960.9 L371.6,959.2 L373.6,957.5 L375.6,955.8 L377.6,954.2 L379.6,952.5 L381.6,950.9 L383.6,949.3 L385.6,947.7 L387.6,946.0 L389.6,944.4 L391.6,942.9 L393.6,941.3 L395.6,939.7 L397.6,938.1 L399.6,936.6 L401.6,935.0 L403.6,933.5 L405.6,932.0 L407.6,930.4 L409.6,928.9 L411.6,927.4 L413.6,925.9 L415.6,924.4 L417.6,922.9 L419.6,921.5 L421.6,920.0 L423.6,918.5 L425.6,917.1 L427.6,915.7 L429.6,914.2 L431.6,912.8 L433.6,911.4 L435.6,910.0 L437.6,908.6 L439.6,907.2 L441.6,905.8 L443.6,904.4 L445.6,903.0 L447.6,901.7 L449.6,900.3 L451.6,898.9 L453.6,897.6 L455.6,896.3 L457.6,894.9 L459.6,893.6 L461.6,892.3 L463.6,891.0 L465.6,889.7 L467.6,888.4 L469.6,887.1 L471.6,885.8 L473.6,884.5 L475.6,883.3 L477.6,882.0 L479.6,880.7 L481.6,879.5 L483.6,878.2 L485.6,877.0 L487.6,875.8 L489.6,874.5 L491.6,873.3 L493.6,872.1 L495.6,870.9 L497.6,869.7 L499.6,868.5 L501.6,867.3 L503.6,866.1 L505.6,864.9 L507.6,863.8 L509.6,862.6 L511.6,861.4 L513.6,860.3 L515.6,859.1 L517.6,858.0 L519.6,856.9 L521.6,855.7 L523.6,854.6 L525.6,853.5 L527.6,852.4 L529.6,851.2 L531.6,850.1 L533.6,849.0 L535.6,847.9 L537.6,846.9 L539.6,845.8 L541.6,844.7 L543.6,843.6 L545.6,842.5 L547.6,841.5 L549.6,840.4 L551.6,839.4 L553.6,838.3 L555.6,837.3 L557.6,836.2 L559.6,835.2 L561.6,834.2 L563.6,833.1 L565.6,832.1 L567.6,831.1 L569.6,830.1 L571.6,829.1 L573.6,828.1 L575.6,827.1 L577.6,826.1 L579.6,825.1 L581.6,824.1 L583.6,823.1 L585.6,822.1 L587.6,821.2 L589.6,820.2 L591.6,819.2 L593.6,818.3 L595.6,817.3 L597.6,816.4 L599.6,815.4 L601.6,814.5 L603.6,813.5 L605.6,812.6 L607.6,811.7 L609.6,810.7 L611.6,809.8 L613.6,808.9 L615.6,808.0 L617.6,807.1 L619.6,806.2 L621.6,805.3 L623.6,804.4 L625.6,803.5 L627.6,802.6 L629.6,801.7 L631.6,800.8 L633.6,799.9 L635.6,799.0 L637.6,798.2 L639.6,797.3 L641.6,796.4 L643.6,795.6 L645.6,794.7 L647.6,793.8 L649.6,793.0 L651.6,792.1 L653.6,791.3 L655.6,790.4 L657.6,789.6 L659.6,788.8 L661.6,787.9 L663.6,787.1 L665.6,786.3 L667.6,785.4 L669.6,784.6 L671.6,783.8 L673.6,783.0 L675.6,782.2 L677.6,781.4 L679.6,780.6 L681.6,779.8 L683.6,779.0 L685.6,778.2 L687.6,777.4 L689.6,776.6 L691.6,775.8 L693.6,775.0 L695.6,774.2 L697.6,773.4 L699.6,772.7 L701.6,771.9 L703.6,771.1 L705.6,770.4 L707.6,769.6 L709.6,768.8 L711.6,768.1 L713.6,767.3 L715.6,766.6 L717.6,765.8 L719.6,765.1 L721.6,764.3 L723.6,763.6 L725.6,762.8 L727.6,762.1 L729.6,761.3 L731.6,760.6 L733.6,759.9 L735.6,759.2 L737.6,758.4 L739.6,757.7 L741.6,757.0 L743.6,756.3 L745.6,755.5 L747.6,754.8 L749.6,754.1 L751.6,753.4 L753.6,752.7 L755.6,752.0 L757.6,751.3 L759.6,750.6 L761.6,749.9 L763.6,749.2 L765.6,748.5 L767.6,747.8 L769.6,747.1 L771.6,746.4 L773.6,745.8 L775.6,745.1 L777.6,744.4 L779.6,743.7 L781.6,743.0 L783.6,742.4 L785.6,741.7 L787.6,741.0 L789.6,740.3 L791.6,739.7 L793.6,739.0 L795.6,738.4 L797.6,737.7 L799.6,737.0 L801.6,736.4 L803.6,735.7 L805.6,735.1 L807.6,734.4 L809.6,733.8 L811.6,733.1 L813.6,732.5 L815.6,731.8 L817.6,731.2 L819.6,730.6 L821.6,729.9 L823.6,729.3 L825.6,728.6 L827.6,728.0 L829.6,727.4 L831.6,726.8 L833.6,726.1 L835.6,725.5 L837.6,724.9 L839.6,724.3 L841.6,723.6 L843.6,723.0 L845.6,722.4 L847.6,721.8 L849.6,721.2 L851.6,720.6 L853.6,719.9 L855.6,719.3 L857.6,718.7 L859.6,718.1 L861.6,717.5 L863.6,716.9 L865.6,716.3 L867.6,715.7 L869.6,715.1 L871.6,714.5 L873.6,713.9 L875.6,713.3 L877.6,712.7 L879.6,712.1 L881.6,711.5 L883.6,711.0 L885.6,710.4 L887.6,709.8 L889.6,709.2 L891.6,708.6 L893.6,708.0 L895.6,707.5 L897.6,706.9 L899.6,706.3 L901.6,705.7 L903.6,705.2 L905.6,704.6 L907.6,704.0 L909.6,703.4 L911.6,702.9 L913.6,702.3 L915.6,701.7 L917.6,701.2 L919.6,700.6 L921.6,700.0 L923.6,699.5 L925.6,698.9 L927.6,698.4" fill="none" stroke="#0000FF" stroke-width="8.5" stroke-linecap="butt" stroke-linejoin="round"/>
<rect x="561.2" y="869.2" width="290.8" height="211.9" fill="#ffffff" stroke="#262626" stroke-width="2"/>
<circle cx="628.7" cy="932.9" r="15.4" fill="#FF0000"/>
<line x1="571.0" y1="1033.0" x2="685.8" y2="1033.0" stroke="#0000FF" stroke-width="8"/>
<g fill="#000"><text x="693.8" y="942.7" font-family='"Liberation Sans", Arial, Helvetica, sans-serif' font-size="60.5" stroke="#000" stroke-width="0.7">P</text><text transform="translate(734.4,914.4) scale(1.176,1)" x="0" y="0" font-family="Liberation Serif, serif" font-style="italic" font-size="48.8">η</text><text x="734.9" y="971.9" font-family='"Liberation Sans", Arial, Helvetica, sans-serif' font-size="47.5" stroke="#000" stroke-width="0.7">c</text><text x="693.5" y="1055.4" font-family='"Liberation Sans", Arial, Helvetica, sans-serif' font-size="60.5" stroke="#000" stroke-width="0.7">fitting</text></g>
<g transform="translate(64.1,944.8) rotate(-90)" fill="#262626" stroke="#262626" stroke-width="0.9"><text x="-4.4" y="-0.45" font-family='"Liberation Sans", Arial, Helvetica, sans-serif' font-size="59">P</text><text transform="translate(36.0,-25.6) scale(1.18,1)" x="0" y="0" font-family="Liberation Serif, serif" font-style="italic" font-size="45.6" stroke="none">η</text><text x="36.2" y="27.2" font-family='"Liberation Sans", Arial, Helvetica, sans-serif' font-size="46.3">c</text></g>
<g stroke="#a0a0a0" stroke-width="2.2"><line x1="1281.0" y1="659.8" x2="1281.0" y2="1171.5"/><line x1="1434.0" y1="659.8" x2="1434.0" y2="1171.5"/><line x1="1587.0" y1="659.8" x2="1587.0" y2="1171.5"/><line x1="1740.0" y1="659.8" x2="1740.0" y2="1171.5"/><line x1="1204.5" y1="830.1" x2="1893.0" y2="830.1"/><line x1="1204.5" y1="1000.8" x2="1893.0" y2="1000.8"/></g>
<g stroke="#262626" stroke-width="2.8"><line x1="1281.0" y1="1171.5" x2="1281.0" y2="1163.0"/><line x1="1281.0" y1="659.8" x2="1281.0" y2="668.3"/><line x1="1434.0" y1="1171.5" x2="1434.0" y2="1163.0"/><line x1="1434.0" y1="659.8" x2="1434.0" y2="668.3"/><line x1="1587.0" y1="1171.5" x2="1587.0" y2="1163.0"/><line x1="1587.0" y1="659.8" x2="1587.0" y2="668.3"/><line x1="1740.0" y1="1171.5" x2="1740.0" y2="1163.0"/><line x1="1740.0" y1="659.8" x2="1740.0" y2="668.3"/><line x1="1893.0" y1="1171.5" x2="1893.0" y2="1163.0"/><line x1="1893.0" y1="659.8" x2="1893.0" y2="668.3"/><line x1="1204.5" y1="659.8" x2="1213.0" y2="659.8"/><line x1="1893.0" y1="659.8" x2="1884.5" y2="659.8"/><line x1="1204.5" y1="830.1" x2="1213.0" y2="830.1"/><line x1="1893.0" y1="830.1" x2="1884.5" y2="830.1"/><line x1="1204.5" y1="1000.8" x2="1213.0" y2="1000.8"/><line x1="1893.0" y1="1000.8" x2="1884.5" y2="1000.8"/><line x1="1204.5" y1="1171.5" x2="1213.0" y2="1171.5"/><line x1="1893.0" y1="1171.5" x2="1884.5" y2="1171.5"/></g>
<rect x="1204.5" y="659.8" width="688.5" height="511.7" fill="none" stroke="#262626" stroke-width="2.8" stroke-linejoin="miter" stroke-linecap="square"/>
<g font-family='"Liberation Sans", Arial, Helvetica, sans-serif' font-size="51.8" fill="#262626" stroke="#262626" stroke-width="0.9"><text x="1183.9" y="679.2" text-anchor="end">0.12</text><text x="1183.9" y="849.5" text-anchor="end">0.1</text><text x="1183.9" y="1020.2" text-anchor="end">0.08</text><text x="1183.9" y="1190.9" text-anchor="end">0.06</text><text x="1281.0" y="1243.8" text-anchor="middle">0.4</text><text x="1434.0" y="1243.8" text-anchor="middle">0.6</text><text x="1587.0" y="1243.8" text-anchor="middle">0.8</text><text x="1740.0" y="1243.8" text-anchor="middle">1</text><text x="1893.0" y="1243.8" text-anchor="middle">1.2</text></g>
<g fill="#FF0000"><circle cx="1201.5" cy="1124.0" r="15.4"/><circle cx="1212.2" cy="1116.1" r="15.4"/><circle cx="1219.8" cy="1110.5" r="15.4"/><circle cx="1227.5" cy="1104.9" r="15.4"/><circle cx="1235.1" cy="1099.4" r="15.4"/><circle cx="1242.8" cy="1094.0" r="15.4"/><circle cx="1250.4" cy="1088.5" r="15.4"/><circle cx="1258.0" cy="1083.1" r="15.4"/><circle cx="1265.7" cy="1077.8" r="15.4"/><circle cx="1273.3" cy="1072.5" r="15.4"/><circle cx="1281.0" cy="1067.2" r="15.4"/><circle cx="1288.7" cy="1062.0" r="15.4"/><circle cx="1296.3" cy="1056.8" r="15.4"/><circle cx="1304.0" cy="1051.7" r="15.4"/><circle cx="1311.6" cy="1046.6" r="15.4"/><circle cx="1319.2" cy="1041.5" r="15.4"/><circle cx="1326.9" cy="1036.5" r="15.4"/><circle cx="1334.5" cy="1031.5" r="15.4"/><circle cx="1342.2" cy="1026.5" r="15.4"/><circle cx="1349.8" cy="1021.6" r="15.4"/><circle cx="1357.5" cy="1016.7" r="15.4"/><circle cx="1365.2" cy="1011.8" r="15.4"/><circle cx="1372.8" cy="1007.0" r="15.4"/><circle cx="1380.5" cy="1002.2" r="15.4"/><circle cx="1388.1" cy="997.4" r="15.4"/><circle cx="1395.8" cy="992.7" r="15.4"/><circle cx="1403.4" cy="988.0" r="15.4"/><circle cx="1411.0" cy="983.3" r="15.4"/><circle cx="1418.7" cy="978.6" r="15.4"/><circle cx="1426.3" cy="974.0" r="15.4"/><circle cx="1434.0" cy="969.4" r="15.4"/><circle cx="1441.7" cy="964.8" r="15.4"/><circle cx="1449.3" cy="960.3" r="15.4"/><circle cx="1457.0" cy="955.7" r="15.4"/><circle cx="1464.6" cy="951.3" r="15.4"/><circle cx="1472.2" cy="946.8" r="15.4"/><circle cx="1479.9" cy="942.3" r="15.4"/><circle cx="1487.5" cy="937.9" r="15.4"/><circle cx="1495.2" cy="933.5" r="15.4"/><circle cx="1502.8" cy="929.1" r="15.4"/><circle cx="1510.5" cy="924.8" r="15.4"/><circle cx="1518.2" cy="920.4" r="15.4"/><circle cx="1525.8" cy="916.1" r="15.4"/><circle cx="1533.5" cy="911.8" r="15.4"/><circle cx="1541.1" cy="907.6" r="15.4"/><circle cx="1548.8" cy="903.3" r="15.4"/><circle cx="1556.4" cy="899.1" r="15.4"/><circle cx="1564.0" cy="894.9" r="15.4"/><circle cx="1571.7" cy="890.7" r="15.4"/><circle cx="1579.3" cy="886.5" r="15.4"/><circle cx="1587.0" cy="882.4" r="15.4"/><circle cx="1594.7" cy="878.2" r="15.4"/><circle cx="1602.3" cy="874.1" r="15.4"/><circle cx="1610.0" cy="870.0" r="15.4"/><circle cx="1617.6" cy="866.0" r="15.4"/><circle cx="1625.2" cy="861.9" r="15.4"/><circle cx="1632.9" cy="857.8" r="15.4"/><circle cx="1640.5" cy="853.8" r="15.4"/><circle cx="1648.2" cy="849.8" r="15.4"/><circle cx="1655.8" cy="845.8" r="15.4"/><circle cx="1663.5" cy="841.8" r="15.4"/><circle cx="1671.2" cy="837.8" r="15.4"/><circle cx="1678.8" cy="833.9" r="15.4"/><circle cx="1686.5" cy="829.9" r="15.4"/><circle cx="1694.1" cy="826.0" r="15.4"/><circle cx="1701.8" cy="822.1" r="15.4"/><circle cx="1709.4" cy="818.2" r="15.4"/><circle cx="1717.0" cy="814.3" r="15.4"/><circle cx="1724.7" cy="810.4" r="15.4"/><circle cx="1732.3" cy="806.6" r="15.4"/><circle cx="1740.0" cy="802.7" r="15.4"/><circle cx="1747.7" cy="798.9" r="15.4"/><circle cx="1755.3" cy="795.1" r="15.4"/><circle cx="1763.0" cy="791.3" r="15.4"/><circle cx="1770.6" cy="787.5" r="15.4"/><circle cx="1778.2" cy="783.7" r="15.4"/><circle cx="1785.9" cy="779.9" r="15.4"/><circle cx="1793.5" cy="776.1" r="15.4"/><circle cx="1801.2" cy="772.4" r="15.4"/><circle cx="1808.8" cy="768.6" r="15.4"/><circle cx="1816.5" cy="764.9" r="15.4"/><circle cx="1824.2" cy="761.2" r="15.4"/><circle cx="1831.8" cy="757.5" r="15.4"/><circle cx="1839.5" cy="753.8" r="15.4"/><circle cx="1847.1" cy="750.1" r="15.4"/><circle cx="1854.8" cy="746.4" r="15.4"/><circle cx="1862.4" cy="742.7" r="15.4"/><circle cx="1870.0" cy="739.0" r="15.4"/><circle cx="1877.7" cy="735.4" r="15.4"/><circle cx="1885.3" cy="731.7" r="15.4"/><circle cx="1893.3" cy="727.9" r="15.4"/></g>
<path d="M1204.0,1120.4 L1206.0,1119.0 L1208.0,1117.5 L1210.0,1116.1 L1212.0,1114.7 L1214.0,1113.2 L1216.0,1111.8 L1218.0,1110.4 L1220.0,1109.0 L1222.0,1107.5 L1224.0,1106.1 L1226.0,1104.7 L1228.0,1103.3 L1230.0,1101.9 L1232.0,1100.5 L1234.0,1099.1 L1236.0,1097.7 L1238.0,1096.3 L1240.0,1094.9 L1242.0,1093.5 L1244.0,1092.1 L1246.0,1090.7 L1248.0,1089.3 L1250.0,1087.9 L1252.0,1086.5 L1254.0,1085.1 L1256.0,1083.8 L1258.0,1082.4 L1260.0,1081.0 L1262.0,1079.6 L1264.0,1078.3 L1266.0,1076.9 L1268.0,1075.5 L1270.0,1074.2 L1272.0,1072.8 L1274.0,1071.5 L1276.0,1070.1 L1278.0,1068.7 L1280.0,1067.4 L1282.0,1066.0 L1284.0,1064.7 L1286.0,1063.4 L1288.0,1062.0 L1290.0,1060.7 L1292.0,1059.3 L1294.0,1058.0 L1296.0,1056.7 L1298.0,1055.3 L1300.0,1054.0 L1302.0,1052.7 L1304.0,1051.4 L1306.0,1050.0 L1308.0,1048.7 L1310.0,1047.4 L1312.0,1046.1 L1314.0,1044.8 L1316.0,1043.5 L1318.0,1042.2 L1320.0,1040.9 L1322.0,1039.5 L1324.0,1038.2 L1326.0,1036.9 L1328.0,1035.6 L1330.0,1034.4 L1332.0,1033.1 L1334.0,1031.8 L1336.0,1030.5 L1338.0,1029.2 L1340.0,1027.9 L1342.0,1026.6 L1344.0,1025.3 L1346.0,1024.1 L1348.0,1022.8 L1350.0,1021.5 L1352.0,1020.2 L1354.0,1019.0 L1356.0,1017.7 L1358.0,1016.4 L1360.0,1015.2 L1362.0,1013.9 L1364.0,1012.6 L1366.0,1011.4 L1368.0,1010.1 L1370.0,1008.9 L1372.0,1007.6 L1374.0,1006.4 L1376.0,1005.1 L1378.0,1003.9 L1380.0,1002.6 L1382.0,1001.4 L1384.0,1000.1 L1386.0,998.9 L1388.0,997.6 L1390.0,996.4 L1392.0,995.2 L1394.0,993.9 L1396.0,992.7 L1398.0,991.5 L1400.0,990.2 L1402.0,989.0 L1404.0,987.8 L1406.0,986.6 L1408.0,985.3 L1410.0,984.1 L1412.0,982.9 L1414.0,981.7 L1416.0,980.5 L1418.0,979.3 L1420.0,978.1 L1422.0,976.8 L1424.0,975.6 L1426.0,974.4 L1428.0,973.2 L1430.0,972.0 L1432.0,970.8 L1434.0,969.6 L1436.0,968.4 L1438.0,967.2 L1440.0,966.0 L1442.0,964.9 L1444.0,963.7 L1446.0,962.5 L1448.0,961.3 L1450.0,960.1 L1452.0,958.9 L1454.0,957.7 L1456.0,956.6 L1458.0,955.4 L1460.0,954.2 L1462.0,953.0 L1464.0,951.8 L1466.0,950.7 L1468.0,949.5 L1470.0,948.3 L1472.0,947.2 L1474.0,946.0 L1476.0,944.8 L1478.0,943.7 L1480.0,942.5 L1482.0,941.3 L1484.0,940.2 L1486.0,939.0 L1488.0,937.9 L1490.0,936.7 L1492.0,935.6 L1494.0,934.4 L1496.0,933.3 L1498.0,932.1 L1500.0,931.0 L1502.0,929.8 L1504.0,928.7 L1506.0,927.5 L1508.0,926.4 L1510.0,925.3 L1512.0,924.1 L1514.0,923.0 L1516.0,921.8 L1518.0,920.7 L1520.0,919.6 L1522.0,918.5 L1524.0,917.3 L1526.0,916.2 L1528.0,915.1 L1530.0,913.9 L1532.0,912.8 L1534.0,911.7 L1536.0,910.6 L1538.0,909.5 L1540.0,908.3 L1542.0,907.2 L1544.0,906.1 L1546.0,905.0 L1548.0,903.9 L1550.0,902.8 L1552.0,901.6 L1554.0,900.5 L1556.0,899.4 L1558.0,898.3 L1560.0,897.2 L1562.0,896.1 L1564.0,895.0 L1566.0,893.9 L1568.0,892.8 L1570.0,891.7 L1572.0,890.6 L1574.0,889.5 L1576.0,888.4 L1578.0,887.3 L1580.0,886.2 L1582.0,885.1 L1584.0,884.0 L1586.0,883.0 L1588.0,881.9 L1590.0,880.8 L1592.0,879.7 L1594.0,878.6 L1596.0,877.5 L1598.0,876.4 L1600.0,875.4 L1602.0,874.3 L1604.0,873.2 L1606.0,872.1 L1608.0,871.1 L1610.0,870.0 L1612.0,868.9 L1614.0,867.8 L1616.0,866.8 L1618.0,865.7 L1620.0,864.6 L1622.0,863.6 L1624.0,862.5 L1626.0,861.4 L1628.0,860.4 L1630.0,859.3 L1632.0,858.2 L1634.0,857.2 L1636.0,856.1 L1638.0,855.1 L1640.0,854.0 L1642.0,852.9 L1644.0,851.9 L1646.0,850.8 L1648.0,849.8 L1650.0,848.7 L1652.0,847.7 L1654.0,846.6 L1656.0,845.6 L1658.0,844.5 L1660.0,843.5 L1662.0,842.4 L1664.0,841.4 L1666.0,840.3 L1668.0,839.3 L1670.0,838.3 L1672.0,837.2 L1674.0,836.2 L1676.0,835.1 L1678.0,834.1 L1680.0,833.1 L1682.0,832.0 L1684.0,831.0 L1686.0,830.0 L1688.0,828.9 L1690.0,827.9 L1692.0,826.9 L1694.0,825.8 L1696.0,824.8 L1698.0,823.8 L1700.0,822.8 L1702.0,821.7 L1704.0,820.7 L1706.0,819.7 L1708.0,818.7 L1710.0,817.6 L1712.0,816.6 L1714.0,815.6 L1716.0,814.6 L1718.0,813.6 L1720.0,812.5 L1722.0,811.5 L1724.0,810.5 L1726.0,809.5 L1728.0,808.5 L1730.0,807.5 L1732.0,806.5 L1734.0,805.4 L1736.0,804.4 L1738.0,803.4 L1740.0,802.4 L1742.0,801.4 L1744.0,800.4 L1746.0,799.4 L1748.0,798.4 L1750.0,797.4 L1752.0,796.4 L1754.0,795.4 L1756.0,794.4 L1758.0,793.4 L1760.0,792.4 L1762.0,791.4 L1764.0,790.4 L1766.0,789.4 L1768.0,788.4 L1770.0,787.4 L1772.0,786.4 L1774.0,785.4 L1776.0,784.4 L1778.0,783.4 L1780.0,782.4 L1782.0,781.4 L1784.0,780.5 L1786.0,779.5 L1788.0,778.5 L1790.0,777.5 L1792.0,776.5 L1794.0,775.5 L1796.0,774.5 L1798.0,773.6 L1800.0,772.6 L1802.0,771.6 L1804.0,770.6 L1806.0,769.6 L1808.0,768.6 L1810.0,767.7 L1812.0,766.7 L1814.0,765.7 L1816.0,764.7 L1818.0,763.8 L1820.0,762.8 L1822.0,761.8 L1824.0,760.8 L1826.0,759.9 L1828.0,758.9 L1830.0,757.9 L1832.0,757.0 L1834.0,756.0 L1836.0,755.0 L1838.0,754.0 L1840.0,753.1 L1842.0,752.1 L1844.0,751.1 L1846.0,750.2 L1848.0,749.2 L1850.0,748.2 L1852.0,747.3 L1854.0,746.3 L1856.0,745.4 L1858.0,744.4 L1860.0,743.4 L1862.0,742.5 L1864.0,741.5 L1866.0,740.6 L1868.0,739.6 L1870.0,738.6 L1872.0,737.7 L1874.0,736.7 L1876.0,735.8 L1878.0,734.8 L1880.0,733.9 L1882.0,732.9 L1884.0,732.0 L1886.0,731.0 L1888.0,730.1 L1890.0,729.1 L1892.0,728.2 L1892.5,727.9" fill="none" stroke="#64D413" stroke-width="8.5" stroke-linecap="butt" stroke-linejoin="round"/>
<rect x="1236.2" y="685.1" width="290.8" height="210.6" fill="#ffffff" stroke="#262626" stroke-width="2"/>
<circle cx="1304.4" cy="748.4" r="15.4" fill="#FF0000"/>
<line x1="1247.1" y1="849.0" x2="1362.0" y2="849.0" stroke="#64D413" stroke-width="8"/>
<g fill="#000"><text x="1368.8" y="759.4" font-family='"Liberation Sans", Arial, Helvetica, sans-serif' font-size="60.5" stroke="#000" stroke-width="0.7">P</text><text transform="translate(1409.4,731.1) scale(1.176,1)" x="0" y="0" font-family="Liberation Serif, serif" font-style="italic" font-size="48.8">η</text><text x="1409.9" y="788.6" font-family='"Liberation Sans", Arial, Helvetica, sans-serif' font-size="47.5" stroke="#000" stroke-width="0.7">d</text><text x="1369.2" y="871.7" font-family='"Liberation Sans", Arial, Helvetica, sans-serif' font-size="60.5" stroke="#000" stroke-width="0.7">fitting</text></g>
<g transform="translate(1029.9,944.8) rotate(-90)" fill="#262626" stroke="#262626" stroke-width="0.9"><text x="-4.4" y="-0.45" font-family='"Liberation Sans", Arial, Helvetica, sans-serif' font-size="59">P</text><text transform="translate(36.0,-25.6) scale(1.18,1)" x="0" y="0" font-family="Liberation Serif, serif" font-style="italic" font-size="45.6" stroke="none">η</text><text x="36.2" y="27.2" font-family='"Liberation Sans", Arial, Helvetica, sans-serif' font-size="46.3">d</text></g>
<g font-family='"Liberation Sans", Arial, Helvetica, sans-serif' font-size="58.3" fill="#262626" stroke="#262626" stroke-width="0.9"><text x="422.2" y="1303.7">H [1000km]</text><text x="1397.2" y="1320.0">H [1000km]</text></g>
<text transform="translate(628.3,1402.7) scale(1,1.01)" x="0" y="0" font-family='"Liberation Sans", Arial, Helvetica, sans-serif' font-size="56.85" fill="#000" stroke="#000" stroke-width="0.7">Altitudes of GNSS-R satellites</text>
</svg>
</body></html>
